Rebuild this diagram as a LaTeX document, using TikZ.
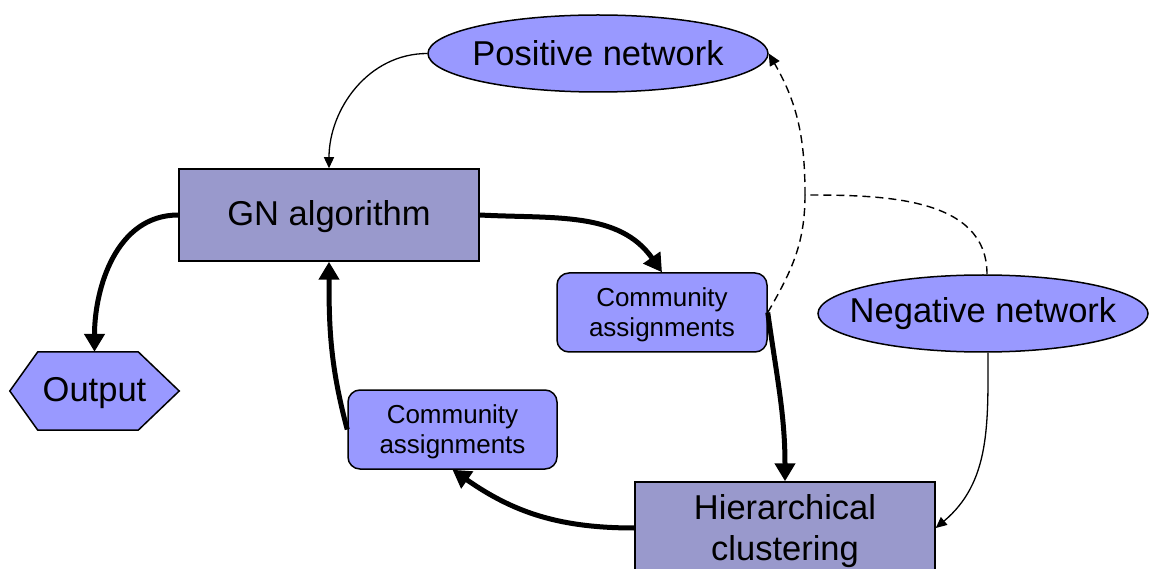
\documentclass[tikz,border=0pt]{standalone}
\usepackage{fontspec}
\setmainfont{Liberation Sans}
\usetikzlibrary{arrows.meta,shapes.geometric}

\definecolor{lightlav}{HTML}{9999FF}
\definecolor{greylav}{HTML}{9999CC}

\tikzset{
  bigtext/.style={font=\fontsize{34.5}{41}\selectfont},
  smalltext/.style={font=\fontsize{26}{30}\selectfont},
  netnode/.style={ellipse, draw, line width=1.5pt, fill=lightlav, inner sep=0pt, bigtext},
  algbox/.style={rectangle, draw, line width=1.5pt, fill=greylav, inner sep=0pt, bigtext, align=center},
  assignbox/.style={rectangle, rounded corners=12pt, draw, line width=1.5pt, fill=lightlav, inner sep=0pt, smalltext, align=center,
    minimum width=210pt, minimum height=79pt},
  thick flow/.style={line width=5pt, -{Triangle[length=18pt,width=20pt]}},
  thin flow/.style={line width=1.3pt, -{Triangle[length=11pt,width=10pt]}},
  dash flow/.style={line width=1.4pt, dash pattern=on 8pt off 5pt},
}

\begin{document}
\begin{tikzpicture}[x=1pt,y=-1pt]
  \clip (0,0) rectangle (1149,569);
  \useasboundingbox (0,0) rectangle (1149,569);

  % nodes (ellipse size fixed by minimum width, label kept out of the fit)
  \node[netnode, minimum width=340pt, minimum height=77pt] (pos) at (598,53.5) {\makebox[0pt]{Positive network}};
  \node[netnode, minimum width=330pt, minimum height=77pt] (neg) at (983,313.5) {\makebox[0pt]{Negative network}};
  \node[algbox, minimum width=300pt, minimum height=92pt] (gn) at (329,215) {};
  \node[bigtext] (gnlabel) at (329,217) {GN algorithm};
  \node[algbox, minimum width=300pt, minimum height=92pt] (hc) at (785,528) {};
  \node[bigtext, align=center] (hclabel) at (785,531) {Hierarchical\\clustering};
  \node[assignbox] (ca1) at (662,312.5) {};
  \node[smalltext, align=center] (ca1label) at (662,315) {Community\\assignments};
  \node[assignbox, minimum width=209pt] (ca2) at (452.5,429.5) {};
  \node[smalltext, align=center] (ca2label) at (452.5,432) {Community\\assignments};

  % hexagonal output terminal
  \node[inner sep=0pt, minimum width=169pt, minimum height=78pt, bigtext] (out) at (94.5,391) {};
  \draw[line width=1.5pt, fill=lightlav]
    (out.west) -- ([xshift=28pt]out.north west) -- ([xshift=-41pt]out.north east)
    -- (out.east) -- ([xshift=-41pt]out.south east) -- ([xshift=28pt]out.south west) -- cycle;
  \node[bigtext] (outlabel) at (94.5,393) {Output};

  % main flow
  \draw[thin flow] (pos.west) to[out=180,in=90] (gn.north);
  \draw[thick flow] (gn.east) to[out=-3,in=125] (ca1.north);
  \draw[thick flow] (gn.west) to[out=180,in=90] (out.north);
  \draw[thick flow] (ca1.east) to[out=-82,in=90] (hc.north);
  \draw[thick flow] (hc.west) to[out=180,in=-35] (ca2.south);
  \draw[thick flow] (ca2.west) to[out=105,in=-90] (gn.south);
  \draw[thin flow] ([xshift=5pt]neg.south) to[out=-90,in=40] (hc.east);

  % dashed feedback
  \coordinate (junc) at (805,195);
  \draw[dash flow] (ca1.east) to[out=60,in=-90] (junc);
  \draw[dash flow, -{Triangle[length=12pt,width=11pt]}] (junc) to[out=90,in=-60] (pos.east);
  \draw[dash flow] ([xshift=4pt]neg.north) to[out=90,in=0] (junc);
\end{tikzpicture}
\end{document}
